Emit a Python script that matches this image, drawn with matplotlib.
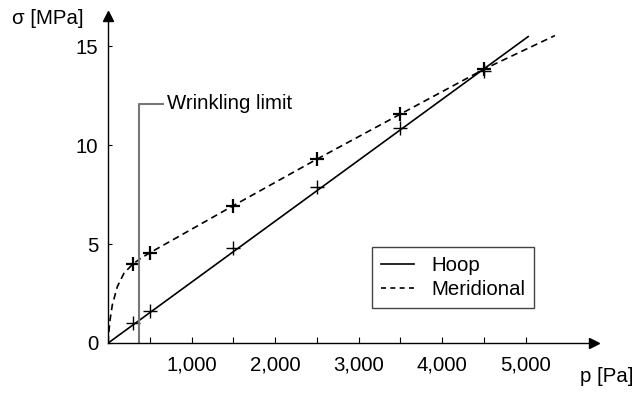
import matplotlib
matplotlib.use('Agg')
import matplotlib.pyplot as plt
from matplotlib.lines import Line2D

plt.rcParams['font.family'] = ['Liberation Sans', 'DejaVu Sans']
FS = 14.7

# points mesurés (p en Pa, sigma en MPa)
p_pts = [300, 500, 1500, 2500, 3500, 4500]
hoop_pts = [1.0, 1.6, 4.8, 7.9, 10.9, 13.75]
merid_pts = [4.0, 4.55, 6.95, 9.3, 11.58, 13.85]

# courbes tracées
hoop_p = [0, 5030]
hoop_s = [0, 15.5]
merid_p = [0, 6, 22, 49, 109, 189, 297, 389, 489, 1500, 2500, 3500, 4500, 5350]
merid_s = [0, 0.49, 1.16, 1.92, 2.85, 3.53, 4.0, 4.28, 4.54, 6.95, 9.3, 11.58, 13.85, 15.55]

# limite de plissement
p_wrinkle = 365
s_wrinkle_top = 12.1
wrinkle_label = 'Wrinkling limit'

xticks = [500, 1000, 1500, 2000, 2500, 3000, 3500, 4000, 4500, 5000]
xticklabels = ['', '1,000', '', '2,000', '', '3,000', '', '4,000', '', '5,000']
yticks = [0, 5, 10, 15]

W, H = 635, 394
fig = plt.figure(figsize=(W / 100, H / 100), dpi=100)
x0, y0 = 108.2, 343.0
xr, yr = 594.0, 16.0
ax = fig.add_axes([x0 / W, 1 - y0 / H, (xr - x0) / W, (y0 - yr) / H])
ax.set_xlim(0, (xr - x0) / 83.5 * 1000)
ax.set_ylim(0, (y0 - yr) / 19.77)

for s in ('top', 'right'):
    ax.spines[s].set_visible(False)
for s in ('left', 'bottom'):
    ax.spines[s].set_linewidth(1.0)

# flèches en bout d'axes
ax.plot(1, 0, '>k', ms=7, transform=ax.transAxes, clip_on=False)
ax.plot(0, 1, '^k', ms=7, transform=ax.transAxes, clip_on=False)

ax.set_xticks(xticks)
ax.set_xticklabels(xticklabels)
ax.set_yticks(yticks)
ax.tick_params(axis='x', direction='in', length=4, width=0.8, pad=9, labelsize=FS)
ax.tick_params(axis='y', direction='in', length=3, width=0.8, pad=7, labelsize=FS)

# courbes
ax.plot(hoop_p, hoop_s, color='k', lw=1.2)
ax.plot(merid_p, merid_s, color='k', lw=1.2, dashes=(4, 2.6))
ax.plot(p_pts, hoop_pts, '+', color='k', ms=10, mew=1.0)
ax.plot(p_pts, merid_pts, '+', color='k', ms=10, mew=1.6)

# limite de plissement
ax.plot([p_wrinkle, p_wrinkle, 660], [0, s_wrinkle_top, s_wrinkle_top],
        color='#777777', lw=1.5)
ax.text(700, s_wrinkle_top, wrinkle_label, fontsize=FS, ha='left', va='center')

fig.text(11.7 / W, 1 - 18.5 / H, 'σ [MPa]', fontsize=FS, ha='left', va='center')
fig.text(633 / W, 1 - 376 / H, 'p [Pa]', fontsize=FS, ha='right', va='center')

handles = [Line2D([], [], color='k', lw=1.2),
           Line2D([], [], color='k', lw=1.2, dashes=(3, 2.6))]
leg = ax.legend(handles, ['Hoop', 'Meridional'], loc='upper left',
                bbox_to_anchor=(371.7 / W, 1 - 246.7 / H), bbox_transform=fig.transFigure,
                borderaxespad=0, fancybox=False, framealpha=1, fontsize=FS,
                handlelength=1.6, handletextpad=0.85, borderpad=0.45, labelspacing=0.25)
leg.get_frame().set_edgecolor('#444444')
leg.get_frame().set_linewidth(1.0)

fig.savefig('out.png', dpi=100)
